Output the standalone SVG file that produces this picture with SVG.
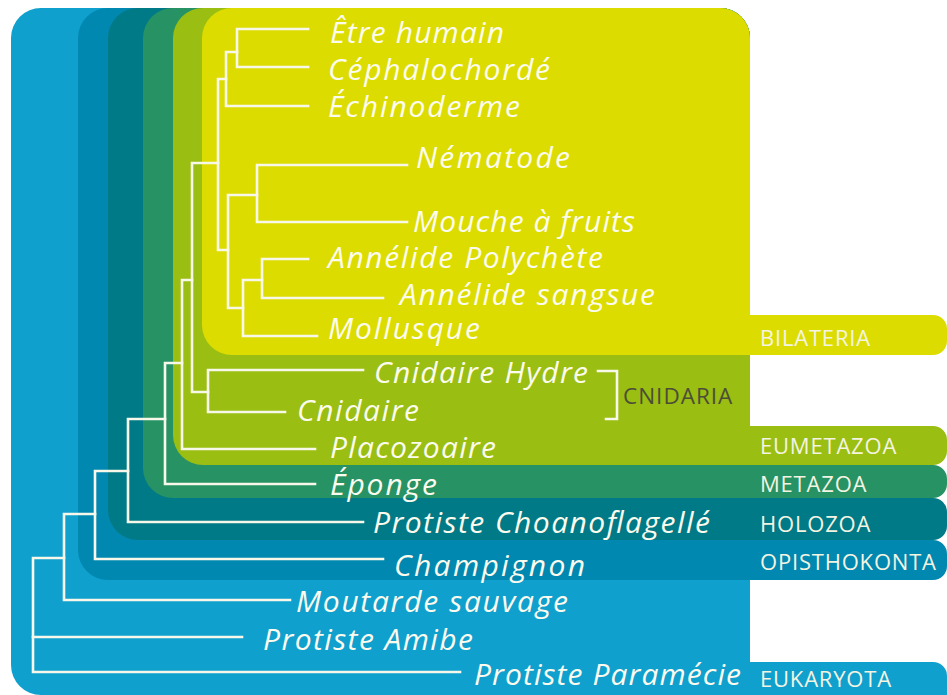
<svg xmlns="http://www.w3.org/2000/svg" width="947" height="695" viewBox="0 0 947 695">
<style>
.leaf{font-family:"Open Sans","Liberation Sans",sans-serif;font-style:italic;font-size:30px;fill:#fbfbee}
.tab{font-family:"Open Sans","Liberation Sans",sans-serif;font-size:22px;letter-spacing:0.8px;fill:#f4f4e2}
.cn{font-family:"Open Sans","Liberation Sans",sans-serif;font-size:22.5px;letter-spacing:1px;fill:#4b4d38}
.ln{fill:none;stroke:#f8f8ea;stroke-width:2.6;stroke-linejoin:miter;stroke-linecap:square}
</style>
<rect width="947" height="695" fill="#ffffff"/>
<g id="eukaryota">
<path fill="#0fa0ce" d="M11,38 A30,30 0 0 1 41,8 H720 A30,30 0 0 1 750,38 V662 H933 A14,14 0 0 1 947,676 V695 H41 A30,30 0 0 1 11,665 Z"/>
<text class="tab" x="760" y="687">EUKARYOTA</text>
</g>
<g id="opisthokonta">
<path fill="#0088b0" d="M78,38 A30,30 0 0 1 108,8 H720 A30,30 0 0 1 750,38 V540 H933 A14,14 0 0 1 947,554 V566 A14,14 0 0 1 933,580 H108 A30,30 0 0 1 78,550 Z"/>
<text class="tab" x="760" y="570">OPISTHOKONTA</text>
</g>
<g id="holozoa">
<path fill="#007a86" d="M108,38 A30,30 0 0 1 138,8 H720 A30,30 0 0 1 750,38 V498 H933 A14,14 0 0 1 947,512 V526 A14,14 0 0 1 933,540 H138 A30,30 0 0 1 108,510 Z"/>
<text class="tab" x="760" y="532">HOLOZOA</text>
</g>
<g id="metazoa">
<path fill="#279264" d="M143,38 A30,30 0 0 1 173,8 H720 A30,30 0 0 1 750,38 V465 H933 A14,14 0 0 1 947,479 V484 A14,14 0 0 1 933,498 H173 A30,30 0 0 1 143,468 Z"/>
<text class="tab" x="760" y="492">METAZOA</text>
</g>
<g id="eumetazoa">
<path fill="#9abe11" d="M173,38 A30,30 0 0 1 203,8 H720 A30,30 0 0 1 750,38 V426 H933 A14,14 0 0 1 947,440 V451 A14,14 0 0 1 933,465 H203 A30,30 0 0 1 173,435 Z"/>
<text class="tab" x="760" y="454">EUMETAZOA</text>
</g>
<g id="bilateria">
<path fill="#dddc00" d="M202,38 A30,30 0 0 1 232,8 H720 A30,30 0 0 1 750,38 V315 H933 A14,14 0 0 1 947,329 V341 A14,14 0 0 1 933,355 H232 A30,30 0 0 1 202,325 Z"/>
<text class="tab" x="760" y="346">BILATERIA</text>
</g>
<g id="cnidaria">
<path class="ln" d="M598,371 H617 V419 H606"/>
<text class="cn" x="623" y="404">CNIDARIA</text>
</g>
<g id="connectors" class="ln">
<path d="M308,29 H237 V67 H308"/>
<path d="M237,52 H226 V106 H308"/>
<path d="M226,79 H218 V250 H228"/>
<path d="M257,195 H228 V308 H243"/>
<path d="M407,165 H257 V222 H407"/>
<path d="M262,280 H243 V336 H317"/>
<path d="M308,259 H262 V298 H383"/>
<path d="M218,163 H192 V392 H208"/>
<path d="M363,370 H208 V412 H285"/>
<path d="M192,280 H182 V449 H315"/>
<path d="M182,363 H165 V484 H315"/>
<path d="M165,419 H128 V522 H363"/>
<path d="M128,471 H95 V559 H383"/>
<path d="M95,514 H64 V600 H290"/>
<path d="M64,558 H33 V672 H460"/>
<path d="M33,637 H242"/>
</g>
<g id="etre-humain"><text class="leaf" x="330" y="43" textLength="174" lengthAdjust="spacing">Être humain</text></g>
<g id="cephalochorde"><text class="leaf" x="328" y="80" textLength="222" lengthAdjust="spacing">Céphalochordé</text></g>
<g id="echinoderme"><text class="leaf" x="328" y="117" textLength="192" lengthAdjust="spacing">Échinoderme</text></g>
<g id="nematode"><text class="leaf" x="416" y="168" textLength="154" lengthAdjust="spacing">Nématode</text></g>
<g id="mouche"><text class="leaf" x="413" y="232" textLength="222" lengthAdjust="spacing">Mouche à fruits</text></g>
<g id="annelide-polychete"><text class="leaf" x="328" y="268" textLength="275" lengthAdjust="spacing">Annélide Polychète</text></g>
<g id="annelide-sangsue"><text class="leaf" x="400" y="305" textLength="255" lengthAdjust="spacing">Annélide sangsue</text></g>
<g id="mollusque"><text class="leaf" x="328" y="339" textLength="152" lengthAdjust="spacing">Mollusque</text></g>
<g id="cnidaire-hydre"><text class="leaf" x="374" y="383" textLength="214" lengthAdjust="spacing">Cnidaire Hydre</text></g>
<g id="cnidaire"><text class="leaf" x="297" y="421" textLength="122" lengthAdjust="spacing">Cnidaire</text></g>
<g id="placozoaire"><text class="leaf" x="330" y="458" textLength="166" lengthAdjust="spacing">Placozoaire</text></g>
<g id="eponge"><text class="leaf" x="330" y="495" textLength="107" lengthAdjust="spacing">Éponge</text></g>
<g id="choanoflagelle"><text class="leaf" x="373" y="533" textLength="337" lengthAdjust="spacing">Protiste Choanoflagellé</text></g>
<g id="champignon"><text class="leaf" x="394" y="576" textLength="191" lengthAdjust="spacing">Champignon</text></g>
<g id="moutarde"><text class="leaf" x="296" y="612" textLength="272" lengthAdjust="spacing">Moutarde sauvage</text></g>
<g id="amibe"><text class="leaf" x="263" y="650" textLength="210" lengthAdjust="spacing">Protiste Amibe</text></g>
<g id="paramecie"><text class="leaf" x="474" y="685" textLength="267" lengthAdjust="spacing">Protiste Paramécie</text></g>
</svg>
